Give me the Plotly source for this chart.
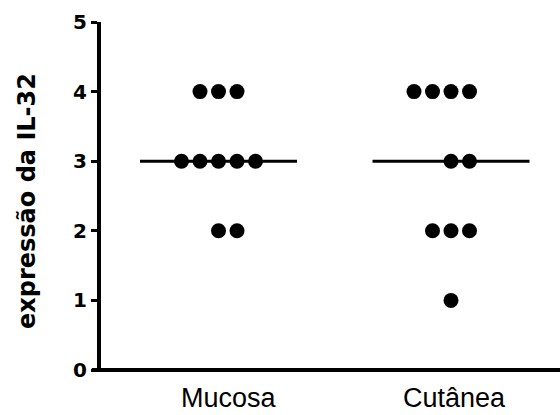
import plotly.graph_objects as go

# Data
categories = ["Mucosa", "Cutânea"]
mucosa_values = [4, 4, 4, 3, 3, 3, 3, 3, 2, 2]
mucosa_slots = [-1, 0, 1, -2, -1, 0, 1, 2, 0, 1]
cutanea_values = [4, 4, 4, 4, 3, 3, 2, 2, 2, 1]
cutanea_slots = [-2, -1, 0, 1, 0, 1, -1, 0, 1, 0]
medians = [3, 3]
y_ticks = [0, 1, 2, 3, 4, 5]
y_title = "expressão da IL-32"

SLOT = 0.0796      # horizontal spacing of stacked dots (category units)
HALF = 0.3376      # half width of median line

label_family = "Liberation Sans, Arial, Helvetica, sans-serif"
bold_family = "DejaVu Sans, Verdana, sans-serif"

fig = go.Figure()

groups = [(mucosa_values, mucosa_slots), (cutanea_values, cutanea_slots)]
for i, (vals, slots) in enumerate(groups):
    cx = i + 1
    fig.add_trace(go.Scatter(
        x=[cx - HALF, cx + HALF], y=[medians[i], medians[i]],
        mode="lines", line=dict(color="black", width=3),
        hoverinfo="skip", showlegend=False, cliponaxis=False))
    fig.add_trace(go.Scatter(
        x=[cx + s * SLOT for s in slots], y=vals,
        mode="markers",
        marker=dict(color="black", size=15, line=dict(width=0)),
        showlegend=False, cliponaxis=False, name=categories[i]))

fig.update_layout(
    width=560, height=415,
    margin=dict(l=101, r=0, t=22, b=45),
    paper_bgcolor="white", plot_bgcolor="white",
    font=dict(family=label_family, color="black"),
    xaxis=dict(range=[0.4946, 2.4688], showgrid=False, zeroline=False,
               showline=False, showticklabels=False, ticks=""),
    yaxis=dict(range=[0, 5], tickvals=y_ticks, showgrid=False, zeroline=False,
               showline=True, linewidth=4, linecolor="black",
               ticks="outside", ticklen=6, tickwidth=3, tickcolor="black",
               tickfont=dict(size=20, family=bold_family, color="black", weight="bold"),
               ticklabelstandoff=0),
)

# x axis line extending slightly left of the y axis
fig.add_shape(type="line", xref="paper", yref="paper", x0=-0.02, x1=1.0, y0=0, y1=0,
              line=dict(color="black", width=4))

# category labels
label_shift = [10, 3]
for i, c in enumerate(categories):
    fig.add_annotation(x=i + 1, y=0, xref="x", yref="paper", text=c, showarrow=False,
                       xanchor="center", yanchor="middle", yshift=-28, xshift=label_shift[i],
                       font=dict(size=27, family=label_family, color="black"))

fig.add_annotation(x=0, y=0.5, xref="paper", yref="paper", text="<b>" + y_title + "</b>",
                   textangle=-90, showarrow=False, xanchor="center", yanchor="middle",
                   xshift=-74, yshift=-5,
                   font=dict(size=24, family=bold_family, color="black"))

fig.write_html("out.html", config={"displayModeBar": False},
               post_script="document.body.style.margin='0px';document.body.style.overflow='hidden';")
